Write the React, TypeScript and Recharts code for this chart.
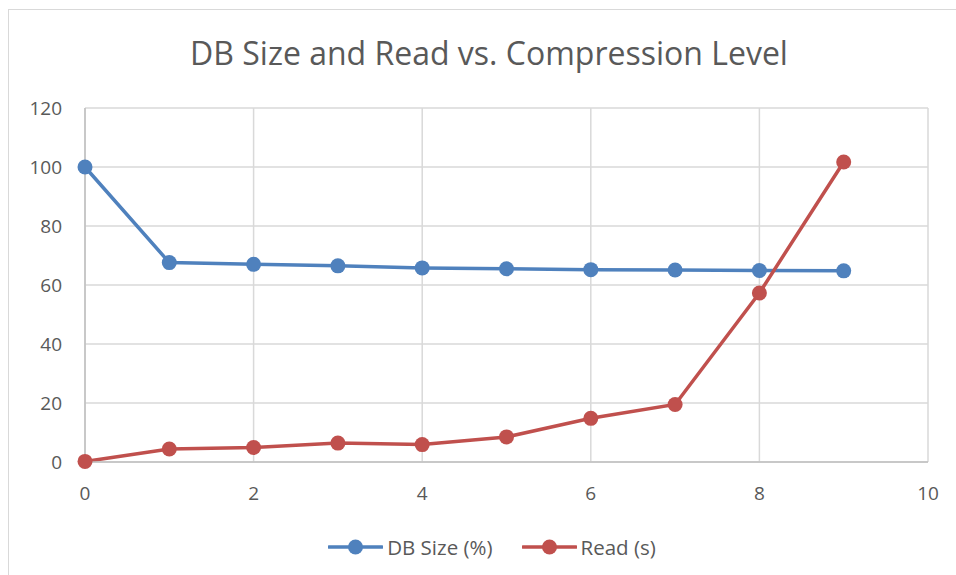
import React from 'react';
import { LineChart, Line, XAxis, YAxis, CartesianGrid, Legend } from 'recharts';

const levels = [0, 1, 2, 3, 4, 5, 6, 7, 8, 9];
const dbSize = [100, 67.6, 67.0, 66.5, 65.8, 65.5, 65.2, 65.1, 64.9, 64.8];
const readTime = [0.2, 4.4, 4.9, 6.4, 5.9, 8.5, 14.8, 19.5, 57.3, 101.7];
const xTicks = [0, 2, 4, 6, 8, 10];
const yTicks = [0, 20, 40, 60, 80, 100, 120];

const data = levels.map((lvl, i) => ({ level: lvl, db: dbSize[i], read: readTime[i] }));

const FONT = '"Open Sans", sans-serif';
const TEXT = '#595959';

const series = [
  { key: 'db', name: 'DB Size (%)', color: '#4f81bd' },
  { key: 'read', name: 'Read (s)', color: '#c0504d' },
];

function LegendContent() {
  return (
    <div style={{ display: 'flex', justifyContent: 'center', gap: 29, fontFamily: FONT, fontSize: 20.5, color: TEXT }}>
      {series.map((s) => (
        <div key={s.key} style={{ display: 'flex', alignItems: 'center' }}>
          <svg width={55} height={16} style={{ marginRight: 4 }}>
            <line x1={1} y1={8} x2={54} y2={8} stroke={s.color} strokeWidth={3.5} strokeLinecap="round" />
            <circle cx={27.5} cy={8} r={7.5} fill={s.color} />
          </svg>
          <span>{s.name}</span>
        </div>
      ))}
    </div>
  );
}

export default function App() {
  return (
    <div style={{ position: 'absolute', left: 0, top: 0, width: 956, height: 575, background: '#fff', overflow: 'hidden' }}>
      <div
        style={{
          position: 'absolute',
          left: 8,
          top: 9,
          width: 960,
          height: 580,
          borderLeft: '1.5px solid #d9d9d9',
          borderTop: '1.5px solid #d9d9d9',
        }}
      />
      <div
        style={{
          position: 'absolute',
          left: 0,
          top: 31,
          width: 978,
          textAlign: 'center',
          fontFamily: FONT,
          fontSize: 32,
          color: TEXT,
        }}
      >
        DB Size and Read vs. Compression Level
      </div>
      <div style={{ position: 'absolute', left: 0, top: 0 }}>
        <LineChart width={956} height={575} data={data} margin={{ top: 108, right: 28, left: 0, bottom: 2 }}>
          <CartesianGrid stroke="#d9d9d9" strokeWidth={1.5} />
          <XAxis
            type="number"
            dataKey="level"
            domain={[0, 10]}
            ticks={xTicks}
            height={83}
            tickLine={false}
            tickSize={0}
            tickMargin={25}
            axisLine={{ stroke: '#bfbfbf', strokeWidth: 1.5 }}
            tick={{ fill: TEXT, fontSize: 19, fontFamily: FONT }}
          />
          <YAxis
            type="number"
            domain={[0, 120]}
            ticks={yTicks}
            width={85}
            tickLine={false}
            tickSize={0}
            tickMargin={23}
            axisLine={{ stroke: '#bfbfbf', strokeWidth: 1.5 }}
            tick={{ fill: TEXT, fontSize: 19, fontFamily: FONT }}
          />
          {series.map((s) => (
            <Line
              key={s.key}
              type="linear"
              dataKey={s.key}
              name={s.name}
              stroke={s.color}
              strokeWidth={3.5}
              dot={{ r: 7.5, fill: s.color, stroke: 'none' }}
              activeDot={false}
              isAnimationActive={false}
            />
          ))}
          <Legend
            verticalAlign="bottom"
            content={<LegendContent />}
            wrapperStyle={{ left: 0, width: 984, bottom: 14 }}
          />
        </LineChart>
      </div>
    </div>
  );
}
